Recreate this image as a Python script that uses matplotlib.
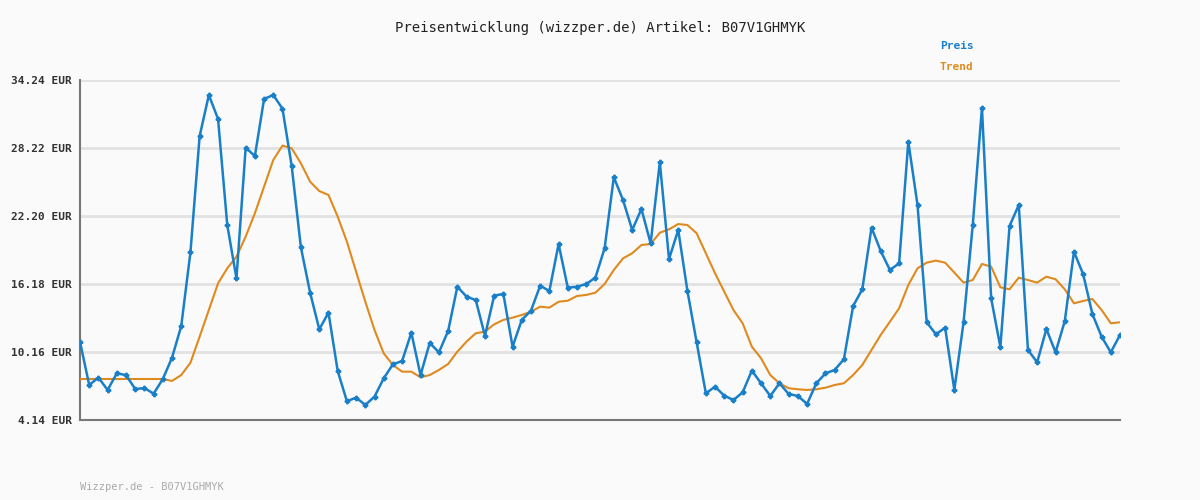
import matplotlib
matplotlib.use('Agg')
import matplotlib.pyplot as plt

# Preis (blau) und Trend (orange)
preis = [11.07, 7.24, 7.9, 6.8, 8.27, 8.12, 6.88, 6.97, 6.47, 7.77,
         9.66, 12.46, 18.99, 29.28, 32.91, 30.79, 21.4, 16.68, 28.25, 27.51,
         32.56, 32.91, 31.7, 26.63, 19.43, 15.42, 12.17, 13.64, 8.48, 5.8,
         6.12, 5.47, 6.21, 7.83, 9.07, 9.36, 11.87, 8.12, 10.96, 10.13,
         12.02, 15.94, 15.06, 14.76, 11.6, 15.15, 15.3, 10.63, 13.0, 13.82,
         16.03, 15.56, 19.72, 15.85, 15.94, 16.18, 16.74, 19.34, 25.63, 23.62,
         20.96, 22.82, 19.78, 26.96, 18.39, 20.96, 15.56, 11.02, 6.5, 7.09,
         6.29, 5.91, 6.59, 8.51, 7.39, 6.27, 7.39, 6.44, 6.27, 5.56,
         7.39, 8.27, 8.57, 9.52, 14.23, 15.71, 21.17, 19.1, 17.42, 18.01,
         28.78, 23.17, 12.79, 11.73, 12.31, 6.8, 12.79, 21.4, 31.79, 14.91,
         10.6, 21.32, 23.17, 10.34, 9.25, 12.2, 10.13, 12.9, 19.04, 17.04,
         13.52, 11.52, 10.13, 11.67]
trend = [7.77, 7.77, 7.77, 7.77, 7.77, 7.77, 7.77, 7.77, 7.77, 7.77,
         7.6, 8.12, 9.21, 11.52, 13.88, 16.24, 17.57, 18.6, 20.37, 22.44,
         24.8, 27.16, 28.43, 28.19, 26.87, 25.24, 24.41, 24.06, 22.14, 19.93,
         17.27, 14.61, 12.11, 10.04, 9.01, 8.42, 8.42, 7.92, 8.12, 8.57,
         9.1, 10.19, 11.08, 11.82, 11.96, 12.61, 13.0, 13.2, 13.44, 13.73,
         14.17, 14.09, 14.61, 14.7, 15.12, 15.21, 15.41, 16.18, 17.42, 18.45,
         18.9, 19.63, 19.72, 20.72, 21.02, 21.49, 21.4, 20.67, 18.9, 17.13,
         15.5, 13.88, 12.7, 10.63, 9.6, 8.12, 7.39, 6.95, 6.86, 6.8,
         6.86, 7.0, 7.24, 7.39, 8.12, 9.01, 10.34, 11.67, 12.84, 14.03,
         16.09, 17.57, 18.07, 18.25, 18.07, 17.19, 16.3, 16.53, 17.95, 17.72,
         15.89, 15.71, 16.74, 16.53, 16.3, 16.83, 16.6, 15.71, 14.47, 14.68,
         14.85, 13.88, 12.7, 12.79]
y_ticks = [4.14, 10.16, 16.18, 22.20, 28.22, 34.24]

blau = '#1a7fc9'
orange = '#e08a1e'
mono = 'DejaVu Sans Mono'

fig = plt.figure(figsize=(12, 5), dpi=100, facecolor='#fafafa')
ax = fig.add_axes([80/1200, 80/500, 1040/1200, 340/500], facecolor='#fafafa')

x = list(range(len(preis)))
ax.plot(x, trend, color=orange, lw=1.5, zorder=3)
ax.plot(x, preis, color=blau, lw=1.8, marker='P', ms=3.2, zorder=4)

ax.set_xlim(0, len(preis) - 1)
ax.set_ylim(4.14, 34.24)
ax.set_yticks(y_ticks)
ax.set_yticklabels(['%.2f EUR' % v for v in y_ticks], fontfamily=mono,
                   fontsize=8, fontweight='bold', color='#333333')
ax.set_xticks([])
ax.tick_params(axis='y', length=0, pad=6)
ax.grid(axis='y', color='#e2e2e2', lw=2)
ax.set_axisbelow(True)
for s in ['top', 'right']:
    ax.spines[s].set_visible(False)
for s in ['left', 'bottom']:
    ax.spines[s].set_color('#777777')
    ax.spines[s].set_linewidth(1.5)

fig.text(0.5, 1 - 28/500, 'Preisentwicklung (wizzper.de) Artikel: B07V1GHMYK',
         ha='center', va='center', fontfamily=mono, fontsize=10, color='#222222')
fig.text(940/1200, 1 - 46/500, 'Preis', fontfamily=mono, fontsize=8,
         fontweight='bold', color=blau, va='center')
fig.text(940/1200, 1 - 67/500, 'Trend', fontfamily=mono, fontsize=8,
         fontweight='bold', color=orange, va='center')
fig.text(80/1200, 1 - 487/500, 'Wizzper.de - B07V1GHMYK', fontfamily=mono,
         fontsize=7.5, color='#aaaaaa', va='center')

fig.savefig('out.png', dpi=100, facecolor=fig.get_facecolor())
